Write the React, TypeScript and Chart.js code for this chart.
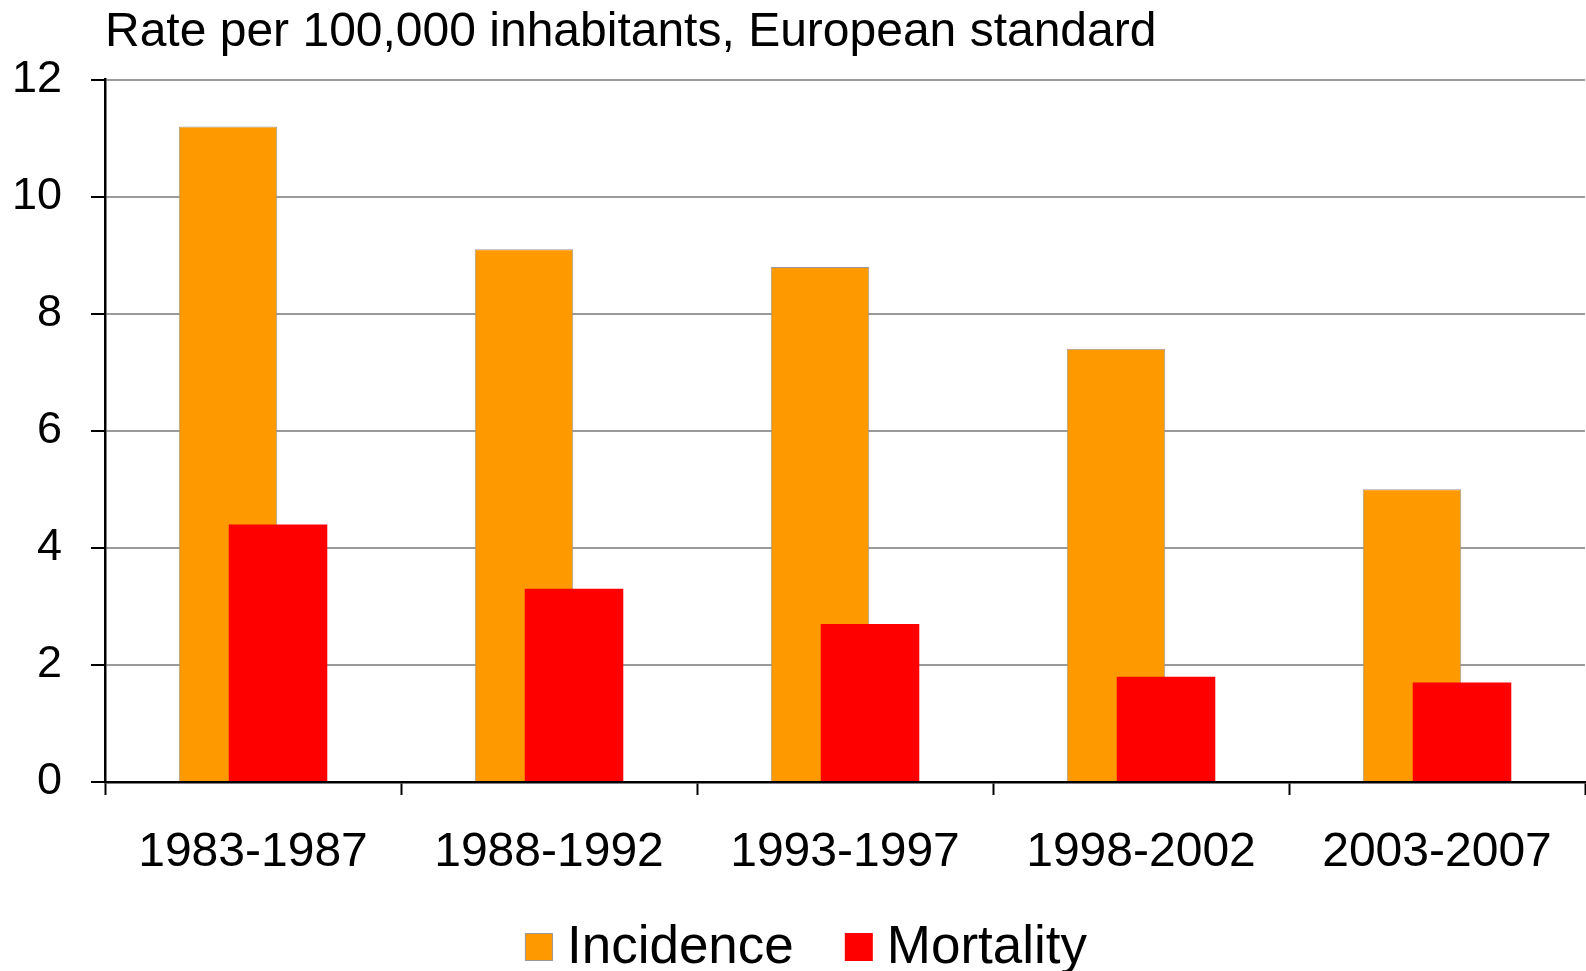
import React, { useEffect, useRef } from "react";
import { Chart, registerables } from "chart.js";

Chart.register(...registerables);

const categories = ["1983-1987", "1988-1992", "1993-1997", "1998-2002", "2003-2007"];
const incidence = [11.2, 9.1, 8.8, 7.4, 5.0];
const mortality = [4.4, 3.3, 2.7, 1.8, 1.7];
const titleText = "Rate per 100,000 inhabitants, European standard";

const FONT = "'Liberation Sans', Arial, sans-serif";

// Draw datasets in their natural order so the later (Mortality) bars sit on top.
const drawOrder = {
  id: "drawOrder",
  beforeDatasetsDraw(chart: any) {
    const metas = chart.getSortedVisibleDatasetMetas();
    const ctx = chart.ctx;
    const area = chart.chartArea;
    ctx.save();
    ctx.beginPath();
    ctx.rect(area.left, area.top - 2, area.right - area.left, area.bottom - area.top + 2);
    ctx.clip();
    metas.forEach((meta: any) => meta.controller.draw());
    ctx.restore();
    return false;
  },
};

const customLegend = {
  id: "customLegend",
  afterDraw(chart: any) {
    const ctx = chart.ctx;
    ctx.save();
    ctx.font = `53px ${FONT}`;
    ctx.textBaseline = "alphabetic";
    ctx.textAlign = "left";
    const boxW = 28;
    const boxH = 28;
    const gapText = 14;
    const gapItem = 51;
    const items = chart.data.datasets.map((ds: any) => ({
      label: ds.label,
      color: ds.backgroundColor,
      border: ds.borderWidth ? ds.borderColor : null,
      w: ctx.measureText(ds.label).width,
    }));
    const total =
      items.reduce((s: number, it: any) => s + boxW + gapText + it.w, 0) + gapItem * (items.length - 1);
    let x = 806 - total / 2;
    const baseline = 963;
    items.forEach((it: any) => {
      ctx.fillStyle = it.color;
      ctx.fillRect(x, baseline - 30, boxW, boxH);
      if (it.border) {
        ctx.strokeStyle = it.border;
        ctx.lineWidth = 1;
        ctx.strokeRect(x + 0.5, baseline - 30 + 0.5, boxW - 1, boxH - 1);
      }
      x += boxW + gapText;
      ctx.fillStyle = "#000";
      ctx.fillText(it.label, x, baseline);
      x += it.w + gapItem;
    });
    ctx.restore();
  },
};

export default function App() {
  const ref = useRef<HTMLCanvasElement | null>(null);

  useEffect(() => {
    document.body.style.margin = "0";
    const canvas = ref.current!;
    const chart = new Chart(canvas, {
      type: "bar",
      data: {
        labels: categories,
        datasets: [
          {
            label: "Incidence",
            data: incidence,
            backgroundColor: "#FF9900",
            borderColor: "#999999",
            borderWidth: 1,
            borderSkipped: "bottom",
            categoryPercentage: 0.338,
            barPercentage: 1.97,
          },
          {
            label: "Mortality",
            data: mortality,
            backgroundColor: "#FF0000",
            borderWidth: 0,
            categoryPercentage: 0.338,
            barPercentage: 1.97,
          },
        ],
      },
      options: {
        responsive: false,
        animation: false,
        layout: { padding: { left: 0, right: 1, top: 0, bottom: 0 } },
        plugins: {
          legend: { display: false },
          tooltip: { enabled: false },
          title: {
            display: true,
            text: titleText,
            align: "start",
            fullSize: false,
            color: "#000",
            font: { family: FONT, size: 48, weight: "normal" },
            padding: { top: 4, bottom: 18 },
          },
        },
        scales: {
          x: {
            offset: true,
            grid: {
              offset: true,
              drawOnChartArea: false,
              drawTicks: true,
              tickLength: 13,
              tickColor: "#000",
              tickWidth: 2,
            },
            border: { color: "#000", width: 2.5 },
            ticks: {
              color: "#000",
              font: { family: FONT, size: 48 },
              padding: 29,
              maxRotation: 0,
            },
            afterFit(scale: any) {
              scale.height = 189;
            },
          },
          y: {
            min: 0,
            max: 12,
            ticks: {
              stepSize: 2,
              color: "#000",
              font: { family: FONT, size: 45 },
              padding: 29,
            },
            grid: {
              color: "#9a9a9a",
              lineWidth: 2,
              tickColor: "#000",
              tickLength: 14,
              tickWidth: 2,
            },
            border: { color: "#000", width: 2.5 },
            afterFit(scale: any) {
              scale.width = 105;
            },
          },
        },
      },
      plugins: [drawOrder, customLegend],
    });
    return () => chart.destroy();
  }, []);

  return (
    <div style={{ width: 1586, height: 971, background: "#fff" }}>
      <canvas ref={ref} width={1586} height={971} style={{ display: "block" }} />
    </div>
  );
}
